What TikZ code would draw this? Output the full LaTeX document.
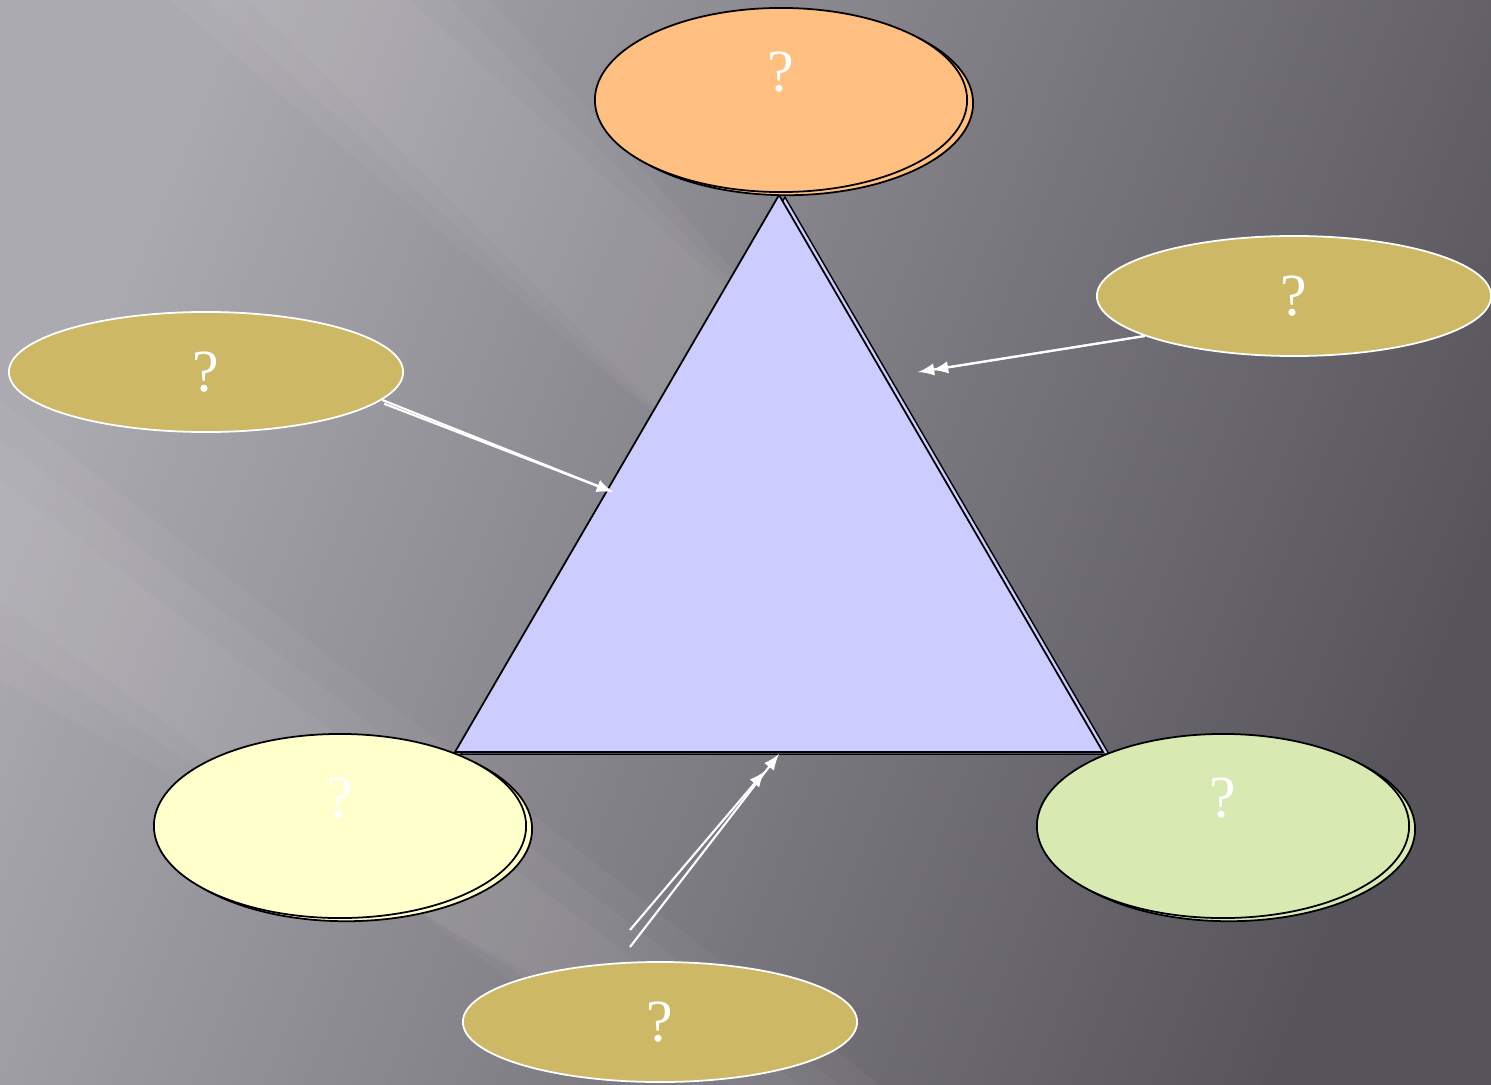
\documentclass[tikz,border=0pt]{standalone}
\usepackage{fontspec}
\setmainfont{Liberation Serif}
\usetikzlibrary{shapes.geometric,shadows}

\definecolor{bglight}{HTML}{ACAAB1}
\definecolor{bgmid}{HTML}{6B696F}
\definecolor{bgdark}{HTML}{57555B}
\definecolor{peach}{HTML}{FFBF80}
\definecolor{cream}{HTML}{FFFFCC}
\definecolor{sage}{HTML}{D8EAB2}
\definecolor{lilac}{HTML}{CCCCFF}
\definecolor{hintfill}{HTML}{CDB866}

\tikzset{
    qmark/.style={text=white, font=\fontsize{17}{20}\selectfont},
    topic/.style={ellipse, draw=black, line width=0.5pt, inner sep=0pt,
        minimum width=3.72cm, minimum height=1.84cm,
        copy shadow={shadow xshift=1.7pt, shadow yshift=-0.9pt}},
    hint/.style={ellipse, draw=white, fill=hintfill, line width=0.5pt, inner sep=0pt,
        minimum width=3.94cm, minimum height=1.2cm, qmark},
    feed/.style={->, white, line width=0.6pt},
    streak/.style={fill=white, opacity=0.035},
}

\begin{document}
\begin{tikzpicture}[>=latex, x=0.01cm, y=-0.01cm]
    \useasboundingbox (0,0) rectangle (1491,1085);

    % background
    \shade[top color=bglight, middle color=bgmid, bottom color=bgdark, shading angle=68]
        (0,0) rectangle (1491,1085);
    \foreach \w in {0,40,80} {
        \fill[streak] (250-\w,0) -- (410+\w,0) -- (850,400) -- (720,470) -- cycle;
        \fill[streak] (0,480-\w) -- (0,600+\w) -- (650+\w,1085) -- (800+\w,1085) -- cycle;
    }

    % triangle
    \coordinate (apex) at (779,195);
    \coordinate (left) at (455,752);
    \coordinate (right) at (1103,752);
    \draw[fill=lilac, line width=0.5pt, copy shadow={shadow xshift=1.7pt, shadow yshift=-0.6pt}]
        (apex) -- (left) -- (right) -- cycle;

    % ellipses
    \node[topic, fill=peach, label={[qmark, yshift=8pt]center:?}] (aim) at (781,100) {};
    \node[topic, fill=cream, label={[qmark, yshift=8pt]center:?}] (know) at (340,826) {};
    \node[topic, fill=sage, label={[qmark, yshift=8pt]center:?}] (skill) at (1223,826) {};

    \node[hint] (hr) at (1294,296) {?};
    \node[hint] (hl) at (206,372) {?};
    \node[hint] (hb) at (660,1022) {?};

    % arrows
    \coordinate (hitl) at (613,492);
    \coordinate (hitr) at (918,372);
    \coordinate (hitr2) at (932,370);
    \coordinate (hitb) at (779,754);
    \coordinate (hitb2) at (765,771);
    \coordinate (tailb) at (630,947);
    \coordinate (tailb2) at (630,930);

    \draw[feed] (hr.195) -- (hitr);
    \draw[feed] (hr.195) -- (hitr2);
    \draw[feed] (hl.-9) -- (hitl);
    \draw[feed] ([xshift=0.6pt, yshift=-1.1pt]hl.-9) -- (hitl);
    \draw[feed] (tailb) -- (hitb);
    \draw[feed] (tailb2) -- (hitb2);
\end{tikzpicture}
\end{document}
